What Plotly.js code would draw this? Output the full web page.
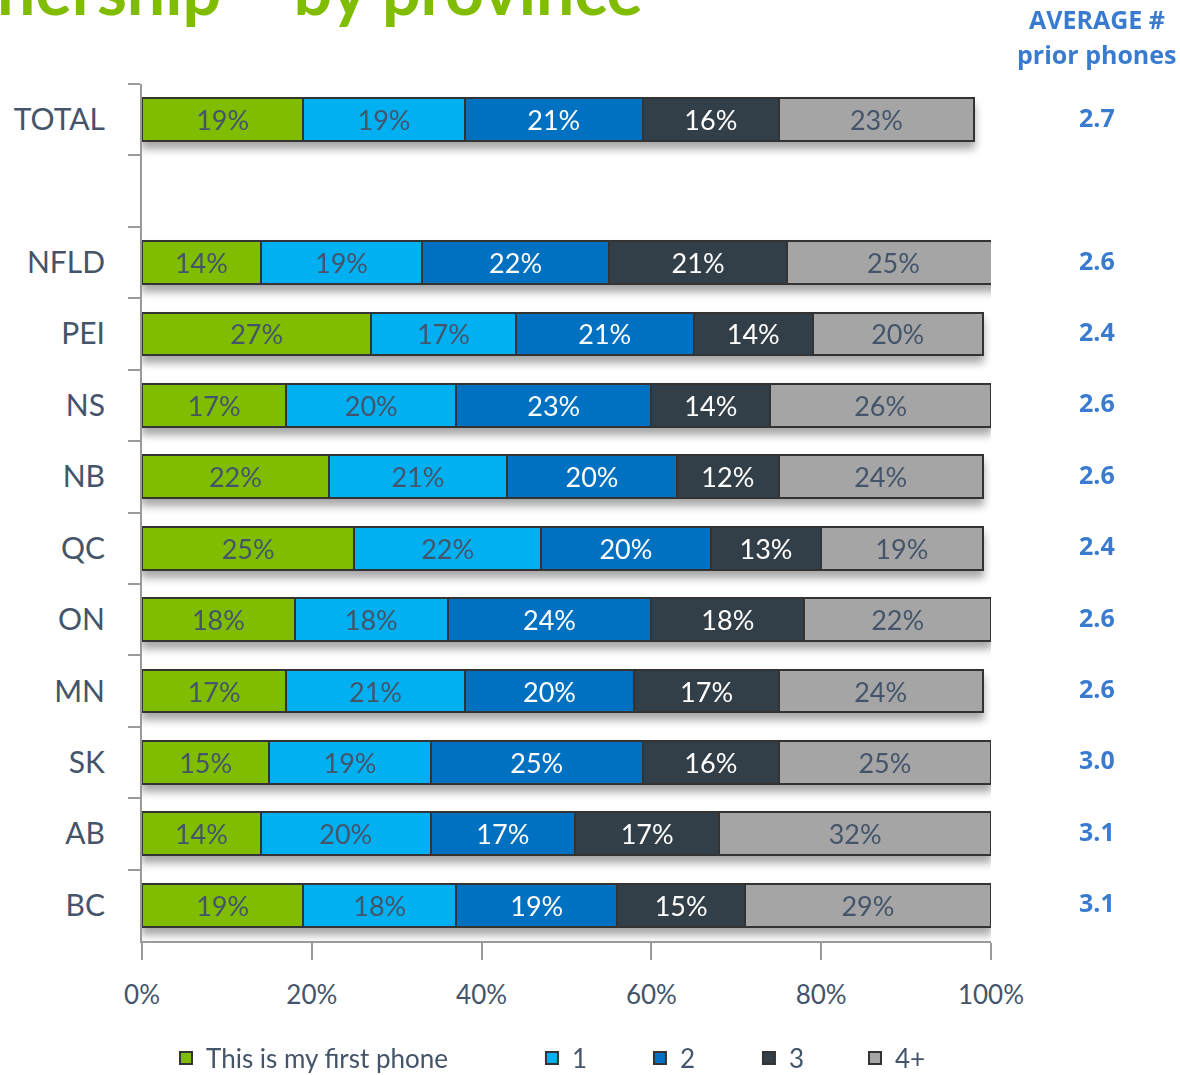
<!DOCTYPE html>
<html>
<head>
<meta charset="utf-8">
<script src="https://cdn.plot.ly/plotly-3.0.1.min.js"></script>
<style>
  html, body { margin: 0; padding: 0; background: #fff; }
  #chart { width: 1180px; height: 1075px; }
  #chart .barlayer { filter: drop-shadow(0px 7px 4px rgba(0,0,0,0.35)); }
</style>
</head>
<body>
<div id="chart"></div>
<script>
// Categories (top to bottom); " " is the empty spacer row
const categories = ["TOTAL", " ", "NFLD", "PEI", "NS", "NB", "QC", "ON", "MN", "SK", "AB", "BC"];

// Series values (%), in category order; null for the spacer row
const firstPhone = [19, null, 14, 27, 17, 22, 25, 18, 17, 15, 14, 19];
const one        = [19, null, 19, 17, 20, 21, 22, 18, 21, 19, 20, 18];
const two        = [21, null, 22, 21, 23, 20, 20, 24, 20, 25, 17, 19];
const three      = [16, null, 21, 14, 14, 12, 13, 18, 17, 16, 17, 15];
const fourPlus   = [23, null, 25, 20, 26, 24, 19, 22, 24, 25, 32, 29];

// Average # prior phones, in category order
const averages = ["2.7", null, "2.6", "2.4", "2.6", "2.6", "2.4", "2.6", "2.6", "3.0", "3.1", "3.1"];

const seriesNames = ["This is my first phone", "1", "2", "3", "4+"];
const seriesValues = [firstPhone, one, two, three, fourPlus];
const seriesColors = ["#80BC00", "#00B0F0", "#0070C0", "#333F48", "#A5A5A5"];
const labelColors  = ["#44546A", "#44546A", "#FFFFFF", "#FFFFFF", "#44546A"];

const xTickVals = [0, 20, 40, 60, 80, 100];
const xTickText = ["0%", "20%", "40%", "60%", "80%", "100%"];

const FONT = "Lato, 'Open Sans', sans-serif";
const TEXT_COLOR = "#44546A";
const AVG_COLOR = "#3A7BD0";

// one legend per series, so each entry can sit where the reference puts it
const legendIds = ["legend", "legend2", "legend3", "legend4", "legend5"];
const legendX = [0.0283, 0.4593, 0.5865, 0.7149, 0.8398];

const traces = seriesNames.map((name, i) => ({
  type: "bar",
  orientation: "h",
  name: name,
  legend: legendIds[i],
  y: categories,
  x: seriesValues[i],
  marker: { color: seriesColors[i], line: { color: "#333333", width: 2 } },
  text: seriesValues[i].map(v => v == null ? "" : v + "%"),
  texttemplate: "%{text}",
  textposition: "inside",
  insidetextanchor: "middle",
  constraintext: "none",
  textfont: { family: FONT, size: 27, color: labelColors[i] },
  hoverinfo: "skip"
}));

const annotations = [
  {
    text: "ownership – by province",
    xref: "paper", yref: "paper",
    x: 0.5925, y: 1.0618, xanchor: "right", yanchor: "bottom",
    showarrow: false,
    font: { family: "Lato, sans-serif", size: 68, color: "#80BC00", weight: "bold" }
  },
  {
    text: "<b>AVERAGE #</b>",
    xref: "paper", yref: "paper",
    x: 1.1249, y: 1.0758, xanchor: "center", yanchor: "middle",
    showarrow: false,
    font: { family: "'Open Sans', sans-serif", size: 25, color: AVG_COLOR }
  },
  {
    text: "<b>prior phones</b>",
    xref: "paper", yref: "paper",
    x: 1.1249, y: 1.035, xanchor: "center", yanchor: "middle",
    showarrow: false,
    font: { family: "'Open Sans', sans-serif", size: 25, color: AVG_COLOR }
  }
];

categories.forEach((c, i) => {
  if (averages[i] == null) return;
  annotations.push({
    text: "<b>" + averages[i] + "</b>",
    xref: "paper", yref: "y",
    x: 1.1249, y: c, xanchor: "center", yanchor: "middle",
    yshift: 3,
    showarrow: false,
    font: { family: "'Open Sans', sans-serif", size: 25, color: AVG_COLOR }
  });
});

const layout = {
  width: 1180,
  height: 1075,
  margin: { l: 142, r: 189, t: 84, b: 134, autoexpand: false },
  paper_bgcolor: "#FFFFFF",
  plot_bgcolor: "#FFFFFF",
  barmode: "stack",
  bargap: 0.4,
  showlegend: true,
  xaxis: {
    range: [0, 100],
    tickvals: xTickVals,
    ticktext: xTickText,
    showgrid: false,
    zeroline: false,
    showline: true,
    linecolor: "#9A9A9A",
    linewidth: 2,
    ticks: "outside",
    ticklen: 17,
    tickwidth: 2,
    tickcolor: "#9A9A9A",
    ticklabelstandoff: 13,
    tickfont: { family: FONT, size: 26, color: TEXT_COLOR },
    fixedrange: true
  },
  yaxis: {
    type: "category",
    categoryorder: "array",
    categoryarray: categories,
    range: [11.5, -0.5],
    showgrid: false,
    zeroline: false,
    showline: true,
    linecolor: "#9A9A9A",
    linewidth: 2,
    ticks: "outside",
    tickson: "boundaries",
    ticklen: 12,
    tickwidth: 2,
    tickcolor: "#9A9A9A",
    ticklabelstandoff: 29,
    tickfont: { family: FONT, size: 30, color: TEXT_COLOR },
    fixedrange: true
  },
  annotations: annotations
};

legendIds.forEach((id, i) => {
  layout[id] = {
    orientation: "h",
    x: legendX[i], xanchor: "left",
    y: -0.1365, yanchor: "middle",
    font: { family: FONT, size: 26, color: TEXT_COLOR },
    bgcolor: "rgba(0,0,0,0)",
    itemclick: false
  };
});

Plotly.newPlot("chart", traces, layout, { displayModeBar: false, staticPlot: true });
</script>
</body>
</html>
